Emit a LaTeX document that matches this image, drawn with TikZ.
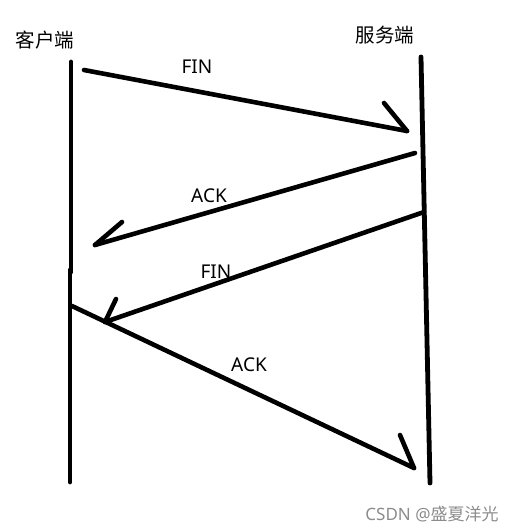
\documentclass[tikz,border=0pt]{standalone}
\usepackage{fontspec}
\setmainfont{Noto Sans}
\newfontfamily\cjk{Noto Sans CJK SC}
\usetikzlibrary{positioning, calc}
\tikzstyle{lifeline} = [line width=4.8pt, line cap=round]
\tikzstyle{msg} = [line width=4.6pt, line cap=round]
\tikzstyle{msgtext} = [font=\fontsize{19}{21}\selectfont, inner sep=0pt]
\tikzstyle{endname} = [font=\cjk\fontsize{19.5}{21}\selectfont, inner sep=0pt]

\begin{document}
\begin{tikzpicture}[x=1pt, y=-1pt]
    \useasboundingbox (0,0) rectangle (516,531);
    % end names
    \node (client) [endname] at (45,40) {客户端};
    \node (server) [endname] at (385,35) {服务端};

    % lifelines
    \coordinate (ctop) at (71,62);
    \coordinate (cmid) at (71,272);
    \coordinate (cmid2) at (70,270);
    \coordinate (cbot) at (70,482);
    \coordinate (stop) at (421,57);
    \coordinate (sbot) at (430,483);
    \draw [lifeline] (ctop) -- (cmid);
    \draw [lifeline] (cmid2) -- (cbot);
    \draw [lifeline] (stop) -- (sbot);

    % first FIN
    \coordinate (fin1a) at (84,70);
    \coordinate (fin1b) at (407,131);
    \coordinate (fin1h) at (384,103);
    \draw [msg] (fin1a) -- (fin1b);
    \draw [msg] (fin1h) -- (fin1b);
    \node (fin1) [msgtext] at (197,67) {FIN};

    % first ACK
    \coordinate (ack1a) at (415,153);
    \coordinate (ack1b) at (95,245);
    \coordinate (ack1h) at (122,222);
    \draw [msg] (ack1a) -- (ack1b);
    \draw [msg] (ack1h) -- (ack1b);
    \node (ack1) [msgtext] at (209,196) {ACK};

    % second FIN
    \coordinate (fin2a) at (424,212);
    \coordinate (fin2b) at (105,322);
    \coordinate (fin2h) at (116,299);
    \draw [msg] (fin2a) -- (fin2b);
    \draw [msg] (fin2h) -- (fin2b);
    \node (fin2) [msgtext] at (216,272) {FIN};

    % second ACK
    \coordinate (ack2a) at (72,306);
    \coordinate (ack2b) at (414,468);
    \coordinate (ack2h) at (400,435);
    \draw [msg] (ack2a) -- (ack2b);
    \draw [msg] (ack2h) -- (ack2b);
    \node (ack2) [msgtext] at (249,365) {ACK};

    % watermark
    \node (mark) [font=\fontsize{17}{19}\selectfont, text=black!45, inner sep=0pt] at (432,514) {CSDN @{\cjk 盛夏洋光}};
\end{tikzpicture}
\end{document}
